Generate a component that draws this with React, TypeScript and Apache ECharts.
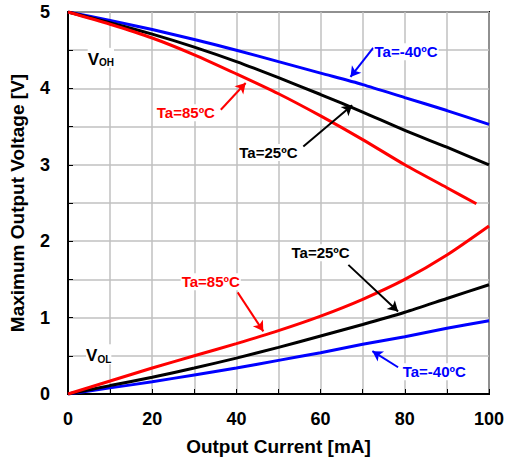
import React, { useEffect, useRef } from "react";
import * as echarts from "echarts";

const current = [0, 10, 20, 30, 40, 50, 60, 70, 80, 90, 100];
const vohM40 = [5, 4.89, 4.77, 4.64, 4.5, 4.35, 4.2, 4.05, 3.88, 3.71, 3.53];
const voh25 = [5, 4.86, 4.71, 4.54, 4.35, 4.14, 3.92, 3.69, 3.45, 3.23, 3.0];
const current85 = [0, 10, 20, 30, 40, 50, 60, 70, 80, 90, 97];
const voh85 = [5, 4.84, 4.66, 4.44, 4.19, 3.93, 3.64, 3.33, 3.0, 2.7, 2.49];
const volM40 = [0, 0.08, 0.16, 0.25, 0.34, 0.44, 0.54, 0.65, 0.75, 0.86, 0.96];
const vol25 = [0, 0.11, 0.22, 0.34, 0.47, 0.61, 0.76, 0.91, 1.07, 1.25, 1.43];
const vol85 = [0, 0.17, 0.34, 0.5, 0.66, 0.83, 1.02, 1.24, 1.5, 1.82, 2.2];

// annotation anchors in data units: [labelX, labelY, arrowFromX, arrowFromY, arrowToX, arrowToY]
const annVohM40 = [80.3, 4.48, 72.5, 4.53, 67.1, 4.15];
const annVoh85 = [28.0, 3.68, 36.3, 3.72, 42.2, 4.07];
const annVoh25 = [47.6, 3.16, 55.9, 3.24, 67.5, 3.78];
const annVol25 = [60.0, 1.85, 66.6, 1.69, 78.4, 1.08];
const annVol85 = [33.9, 1.47, 40.3, 1.33, 46.4, 0.82];
const annVolM40 = [87.0, 0.29, 78.4, 0.35, 72.3, 0.56];
const vohPos = [7.8, 4.4];
const volPos = [7.3, 0.52];

const FONT = "'Liberation Sans', Arial, sans-serif";
const BLUE = "#0000ff";
const RED = "#ff0000";
const BLACK = "#000000";

function zip(xs: number[], ys: number[]) {
  return xs.map((x, i) => [x, ys[i]]);
}

function makeSeries(name: string, xs: number[], ys: number[], color: string, ann: number[], text: string, extra?: any[]) {
  const points: any[] = [
    {
      coord: [ann[0], ann[1]],
      symbol: "rect",
      symbolSize: 0,
      label: {
        show: true,
        position: "inside",
        formatter: text,
        color,
        fontFamily: FONT,
        fontWeight: "bold",
        fontSize: 15,
        backgroundColor: "#ffffff",
        padding: [1, 1],
      },
    },
  ];
  if (extra) points.push(...extra);
  return {
    name,
    type: "line",
    data: zip(xs, ys),
    smooth: 0.25,
    showSymbol: false,
    symbol: "none",
    lineStyle: { color, width: 3 },
    z: 3,
    markLine: {
      silent: true,
      symbol: ["none", "arrow"],
      symbolSize: [9, 10],
      label: { show: false },
      lineStyle: { color, width: 2, type: "solid" },
      data: [[{ coord: [ann[2], ann[3]] }, { coord: [ann[4], ann[5]] }]],
    },
    markPoint: { silent: true, data: points },
  };
}

function subLabel(pos: number[], main: string, sub: string) {
  return {
    coord: pos,
    symbol: "rect",
    symbolSize: 0,
    label: {
      show: true,
      position: "inside",
      formatter: `{v|${main}}{s|${sub}}`,
      backgroundColor: "#ffffff",
      rich: {
        v: { fontSize: 17, fontWeight: "bold", fontFamily: FONT, color: BLACK, lineHeight: 20, verticalAlign: "bottom" },
        s: { fontSize: 10, fontWeight: "bold", fontFamily: FONT, color: BLACK, lineHeight: 20, verticalAlign: "bottom" },
      },
    },
  };
}

export default function App() {
  const ref = useRef<HTMLDivElement>(null);
  useEffect(() => {
    if (!ref.current) return;
    const chart = echarts.init(ref.current, null, { renderer: "svg" });
    const gridColor = "#c0c0c0";
    chart.setOption({
      animation: false,
      backgroundColor: "#ffffff",
      grid: { left: 67, right: 19, top: 12, bottom: 66, show: true, borderColor: BLACK, borderWidth: 2, backgroundColor: "transparent" },
      xAxis: {
        type: "value",
        min: 0,
        max: 100,
        interval: 20,
        name: "Output Current [mA]",
        nameLocation: "middle",
        nameGap: 43,
        nameTextStyle: { fontFamily: FONT, fontWeight: "bold", fontSize: 19, color: BLACK },
        axisLine: { show: true, lineStyle: { color: BLACK, width: 2 } },
        axisTick: { show: true, inside: true, length: 5, lineStyle: { color: BLACK, width: 1 } },
        minorTick: { show: true, splitNumber: 2, length: 5, lineStyle: { color: BLACK, width: 1 } },
        splitLine: { show: true, lineStyle: { color: gridColor, width: 1.5 } },
        minorSplitLine: { show: true, lineStyle: { color: gridColor, width: 1.5 } },
        axisLabel: { fontFamily: FONT, fontWeight: "bold", fontSize: 18, color: BLACK, margin: 16 },
      },
      yAxis: {
        type: "value",
        min: 0,
        max: 5,
        interval: 1,
        name: "Maximum Output Voltage [V]",
        nameLocation: "middle",
        nameGap: 41,
        nameTextStyle: { fontFamily: FONT, fontWeight: "bold", fontSize: 19, color: BLACK },
        axisLine: { show: true, lineStyle: { color: BLACK, width: 2 } },
        axisTick: { show: true, inside: true, length: 5, lineStyle: { color: BLACK, width: 1 } },
        minorTick: { show: true, splitNumber: 2, length: 5, lineStyle: { color: BLACK, width: 1 } },
        splitLine: { show: true, lineStyle: { color: gridColor, width: 1.5 } },
        minorSplitLine: { show: true, lineStyle: { color: gridColor, width: 1.5 } },
        axisLabel: { fontFamily: FONT, fontWeight: "bold", fontSize: 18, color: BLACK, margin: 18 },
      },
      series: [
        makeSeries("VOH -40", current, vohM40, BLUE, annVohM40, "Ta=-40ºC", [subLabel(vohPos, "V", "OH"), subLabel(volPos, "V", "OL")]),
        makeSeries("VOH 25", current, voh25, BLACK, annVoh25, "Ta=25ºC"),
        makeSeries("VOH 85", current85, voh85, RED, annVoh85, "Ta=85ºC"),
        makeSeries("VOL -40", current, volM40, BLUE, annVolM40, "Ta=-40ºC"),
        makeSeries("VOL 25", current, vol25, BLACK, annVol25, "Ta=25ºC"),
        makeSeries("VOL 85", current, vol85, RED, annVol85, "Ta=85ºC"),
      ],
    });
    return () => chart.dispose();
  }, []);
  return <div ref={ref} style={{ width: 508, height: 461, position: "absolute", left: 0, top: 0 }} />;
}
